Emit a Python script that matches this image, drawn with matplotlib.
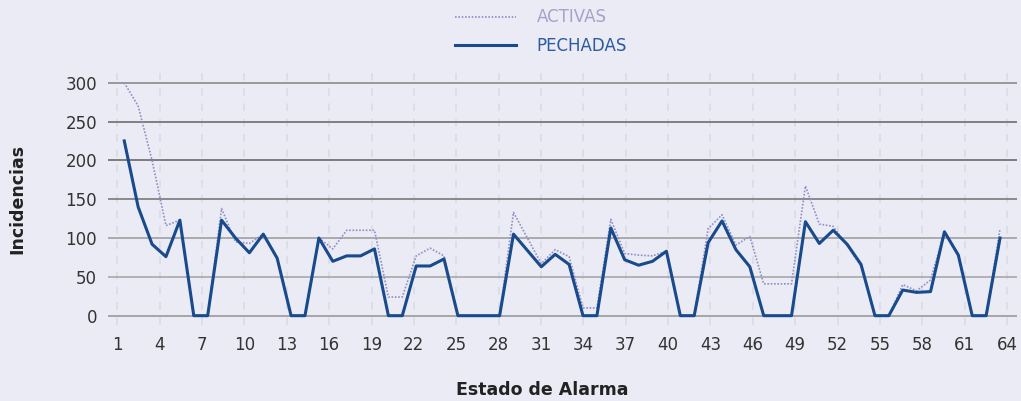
import matplotlib
matplotlib.use("Agg")
import matplotlib.pyplot as plt
import numpy as np

# ---- data ----
dias = list(range(1, 65))
activas = [300, 270, 200, 116, 123, 0, 0, 138, 95, 93, 105, 74, 0, 0, 100, 86,
           110, 110, 110, 24, 24, 77, 87, 77, 0, 0, 0, 0, 133, 100, 67, 85,
           76, 10, 10, 124, 80, 78, 77, 83, 0, 0, 112, 130, 91, 102, 41, 41,
           41, 167, 118, 115, 90, 64, 0, 0, 40, 32, 46, 108, 78, 0, 0, 112]
pechadas = [225, 140, 92, 76, 123, 0, 0, 123, 100, 81, 105, 74, 0, 0, 100, 70,
            77, 77, 86, 0, 0, 64, 64, 73, 0, 0, 0, 0, 105, 84, 63, 79,
            66, 0, 0, 113, 72, 65, 70, 83, 0, 0, 94, 122, 85, 63, 0, 0,
            0, 121, 93, 110, 92, 66, 0, 0, 33, 30, 31, 108, 78, 0, 0, 100]
tick_labels = [str(v) for v in range(1, 65, 3)]
y_ticks = [0, 50, 100, 150, 200, 250, 300]

BG = '#EBEBF5'
C_ACT = '#8F8FC4'
C_PECH = '#184A8C'

plt.rcParams['font.family'] = ['DejaVu Sans']

fig = plt.figure(figsize=(10.21, 4.01), dpi=100, facecolor=BG)
ax = fig.add_axes([108/1021, 1-325/401, (1017-108)/1021, (325-73)/401])
ax.set_facecolor(BG)
for s in ax.spines.values():
    s.set_visible(False)

n = len(dias)
xpos = np.arange(n) + 0.5
ax.set_xlim(-0.67, 64.72)
ax.set_ylim(-12, 312.5)

# horizontal grid lines
grid_cols = ['#9a9a9a', '#a8a8a8', '#a0a0a0', '#7a7a7a', '#6a6a6a', '#6e6e6e', '#8a8a8a']
for yv, gc in zip(y_ticks, grid_cols):
    ax.axhline(yv, color=gc, lw=1.2, zorder=1)

# vertical dashed grid lines + labels
tick_pos = [k * n / (len(tick_labels) - 1) for k in range(len(tick_labels))]
for xp in tick_pos:
    ax.axvline(xp, color='#d9d9e2', lw=1.1, ls=(0, (5, 5)), zorder=0.5)

ax.set_xticks(tick_pos)
ax.set_xticklabels(tick_labels)
ax.set_yticks(y_ticks)
ax.set_yticklabels([str(v) for v in y_ticks])
ax.tick_params(axis='both', length=0, labelsize=12, colors='#333333')
ax.tick_params(axis='x', pad=8)
ax.tick_params(axis='y', pad=8)

ax.plot(xpos, activas, color=C_ACT, lw=1.2, ls=(0, (1, 1)), label='ACTIVAS', zorder=3)
ax.plot(xpos, pechadas, color=C_PECH, lw=2.2, label='PECHADAS', zorder=4)

leg = fig.legend(loc='center', bbox_to_anchor=(541/1021, 1-31.5/401), frameon=False,
                 fontsize=12, handlelength=3.65, handletextpad=1.26, labelspacing=0.62,
                 borderpad=0)
leg.get_texts()[0].set_color('#A3A3C9')
leg.get_texts()[1].set_color('#2C5A9E')

fig.text(542/1021, 1-390/401, 'Estado de Alarma', ha='center', va='center',
         fontsize=12.5, fontweight='bold', color='#222222')
fig.text(17/1021, 1-199/401, 'Incidencias', ha='center', va='center', rotation=90,
         fontsize=12.5, fontweight='bold', color='#222222')

fig.savefig('out.png', dpi=100, facecolor=BG)
